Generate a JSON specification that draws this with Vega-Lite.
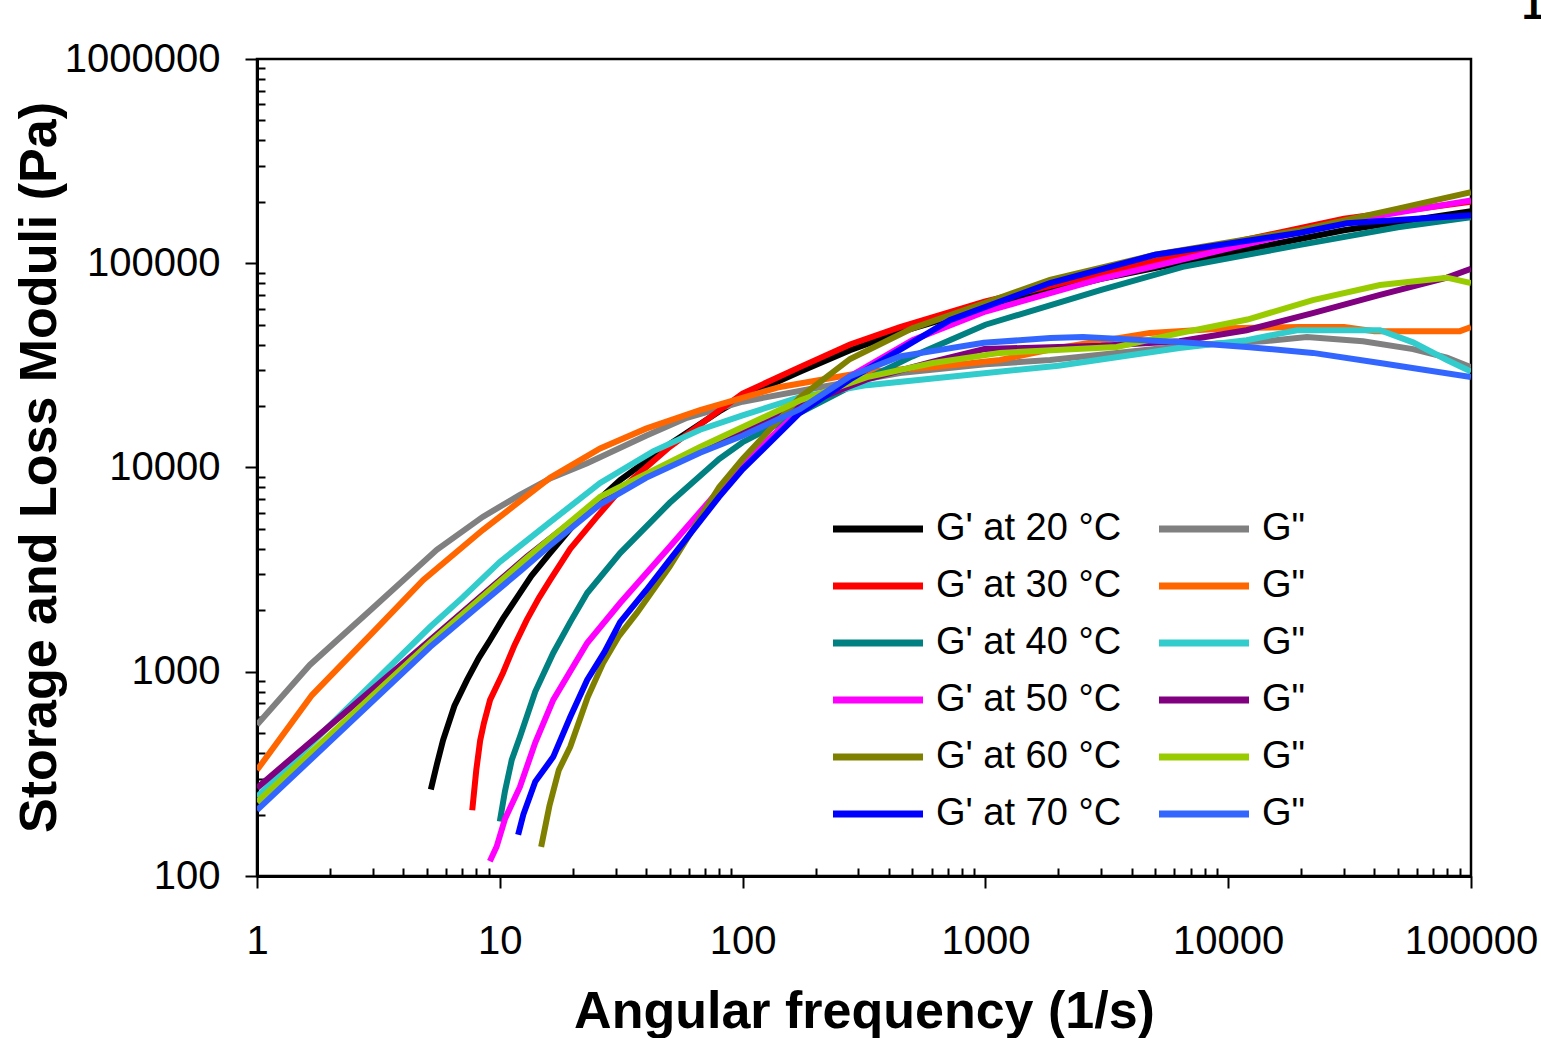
{
  "$schema": "https://vega.github.io/schema/vega-lite/v6.json",
  "width": 1214,
  "height": 817,
  "autosize": {"type": "none"},
  "padding": {"left": 257, "top": 59, "right": 70, "bottom": 162},
  "background": "white",
  "title": {"text": "1", "anchor": "end", "frame": "group", "fontSize": 40, "fontWeight": "bold", "baseline": "alphabetic", "offset": 19, "dy": 39, "dx": 73, "color": "black", "font": "Liberation Sans"},
  "config": {
    "font": "Liberation Sans",
    "view": {"stroke": "black", "strokeWidth": 2.5},
    "axis": {"grid": false, "domainColor": "black", "domainWidth": 3, "tickColor": "black", "tickWidth": 2, "labelColor": "black", "titleColor": "black", "labelFont": "Liberation Sans", "titleFont": "Liberation Sans", "labelFontSize": 40, "titleFontSize": 52, "titleFontWeight": "bold", "labelOverlap": false, "labelFlush": false}
  },
  "data": {"values": [
    {"s":"G' at 20 °C","x":5.2,"y":265},{"s":"G' at 20 °C","x":5.5,"y":350},{"s":"G' at 20 °C","x":5.84,"y":463},{"s":"G' at 20 °C","x":6.5,"y":680},{"s":"G' at 20 °C","x":7.33,"y":912},{"s":"G' at 20 °C","x":8.2,"y":1170},{"s":"G' at 20 °C","x":9.12,"y":1430},{"s":"G' at 20 °C","x":10.3,"y":1820},{"s":"G' at 20 °C","x":11.8,"y":2320},{"s":"G' at 20 °C","x":13.5,"y":2950},{"s":"G' at 20 °C","x":16.1,"y":3810},{"s":"G' at 20 °C","x":19.5,"y":5000},{"s":"G' at 20 °C","x":25,"y":6800},{"s":"G' at 20 °C","x":31.3,"y":8690},{"s":"G' at 20 °C","x":50,"y":13000},{"s":"G' at 20 °C","x":80,"y":18800},{"s":"G' at 20 °C","x":100,"y":22000},{"s":"G' at 20 °C","x":172,"y":29400},{"s":"G' at 20 °C","x":277,"y":37500},{"s":"G' at 20 °C","x":445,"y":46000},{"s":"G' at 20 °C","x":1000,"y":61000},{"s":"G' at 20 °C","x":3000,"y":84000},{"s":"G' at 20 °C","x":10000,"y":112000},{"s":"G' at 20 °C","x":30000,"y":145000},{"s":"G' at 20 °C","x":100000,"y":180000},

    {"s":"G\" 20","x":1,"y":550},{"s":"G\" 20","x":1.65,"y":1080},{"s":"G\" 20","x":3,"y":2050},{"s":"G\" 20","x":5.5,"y":3950},{"s":"G\" 20","x":8.5,"y":5730},{"s":"G\" 20","x":12,"y":7300},{"s":"G\" 20","x":16,"y":8800},{"s":"G\" 20","x":22.9,"y":10500},{"s":"G\" 20","x":40,"y":14300},{"s":"G\" 20","x":59,"y":17500},{"s":"G\" 20","x":100,"y":21000},{"s":"G\" 20","x":200,"y":24500},{"s":"G\" 20","x":445,"y":29000},{"s":"G\" 20","x":1000,"y":32000},{"s":"G\" 20","x":1845,"y":33600},{"s":"G\" 20","x":5000,"y":38000},{"s":"G\" 20","x":9000,"y":40500},{"s":"G\" 20","x":14000,"y":41500},{"s":"G\" 20","x":21100,"y":43500},{"s":"G\" 20","x":35900,"y":41500},{"s":"G\" 20","x":57700,"y":38000},{"s":"G\" 20","x":79600,"y":34500},{"s":"G\" 20","x":100000,"y":31000},

    {"s":"G' at 30 °C","x":7.7,"y":210},{"s":"G' at 30 °C","x":8.0,"y":330},{"s":"G' at 30 °C","x":8.3,"y":460},{"s":"G' at 30 °C","x":8.6,"y":560},{"s":"G' at 30 °C","x":9.12,"y":728},{"s":"G' at 30 °C","x":10.3,"y":986},{"s":"G' at 30 °C","x":11.5,"y":1350},{"s":"G' at 30 °C","x":12.9,"y":1790},{"s":"G' at 30 °C","x":14.5,"y":2300},{"s":"G' at 30 °C","x":16.1,"y":2810},{"s":"G' at 30 °C","x":19.5,"y":4000},{"s":"G' at 30 °C","x":25,"y":5700},{"s":"G' at 30 °C","x":31.3,"y":7760},{"s":"G' at 30 °C","x":50,"y":12600},{"s":"G' at 30 °C","x":80,"y":19000},{"s":"G' at 30 °C","x":100,"y":23000},{"s":"G' at 30 °C","x":172,"y":31000},{"s":"G' at 30 °C","x":277,"y":40000},{"s":"G' at 30 °C","x":445,"y":48700},{"s":"G' at 30 °C","x":1000,"y":65000},{"s":"G' at 30 °C","x":3000,"y":89000},{"s":"G' at 30 °C","x":10000,"y":125000},{"s":"G' at 30 °C","x":30000,"y":165000},{"s":"G' at 30 °C","x":100000,"y":200000},

    {"s":"G\" 30","x":1,"y":330},{"s":"G\" 30","x":1.685,"y":769},{"s":"G\" 30","x":3,"y":1560},{"s":"G\" 30","x":4.83,"y":2810},{"s":"G\" 30","x":8.5,"y":4940},{"s":"G\" 30","x":16.1,"y":8900},{"s":"G\" 30","x":25.9,"y":12400},{"s":"G\" 30","x":40,"y":15500},{"s":"G\" 30","x":66.8,"y":19100},{"s":"G\" 30","x":142.6,"y":24800},{"s":"G\" 30","x":325,"y":29400},{"s":"G\" 30","x":608,"y":31000},{"s":"G\" 30","x":1148,"y":33600},{"s":"G\" 30","x":2000,"y":38500},{"s":"G\" 30","x":4760,"y":45600},{"s":"G\" 30","x":10000,"y":48000},{"s":"G\" 30","x":19800,"y":48700},{"s":"G\" 30","x":30000,"y":48700},{"s":"G\" 30","x":40000,"y":46500},{"s":"G\" 30","x":90000,"y":46500},{"s":"G\" 30","x":100000,"y":48700},

    {"s":"G' at 40 °C","x":10,"y":185},{"s":"G' at 40 °C","x":10.5,"y":260},{"s":"G' at 40 °C","x":11.2,"y":370},{"s":"G' at 40 °C","x":12.1,"y":479},{"s":"G' at 40 °C","x":14,"y":800},{"s":"G' at 40 °C","x":16.6,"y":1236},{"s":"G' at 40 °C","x":19.5,"y":1750},{"s":"G' at 40 °C","x":22.9,"y":2430},{"s":"G' at 40 °C","x":31.3,"y":3810},{"s":"G' at 40 °C","x":50,"y":6700},{"s":"G' at 40 °C","x":80,"y":11000},{"s":"G' at 40 °C","x":100,"y":13300},{"s":"G' at 40 °C","x":172,"y":18500},{"s":"G' at 40 °C","x":277,"y":24800},{"s":"G' at 40 °C","x":500,"y":35000},{"s":"G' at 40 °C","x":1000,"y":50000},{"s":"G' at 40 °C","x":3000,"y":74000},{"s":"G' at 40 °C","x":6500,"y":96000},{"s":"G' at 40 °C","x":19800,"y":123000},{"s":"G' at 40 °C","x":50000,"y":150000},{"s":"G' at 40 °C","x":100000,"y":168000},

    {"s":"G\" 40","x":1,"y":244},{"s":"G\" 40","x":5.16,"y":1656},{"s":"G\" 40","x":7,"y":2300},{"s":"G\" 40","x":10,"y":3450},{"s":"G\" 40","x":16.1,"y":5400},{"s":"G\" 40","x":25.9,"y":8400},{"s":"G\" 40","x":42.8,"y":12000},{"s":"G\" 40","x":66.8,"y":15300},{"s":"G\" 40","x":100,"y":18000},{"s":"G\" 40","x":172,"y":22100},{"s":"G\" 40","x":325,"y":25300},{"s":"G\" 40","x":840,"y":28400},{"s":"G\" 40","x":2000,"y":31500},{"s":"G\" 40","x":6300,"y":38500},{"s":"G\" 40","x":11900,"y":42000},{"s":"G\" 40","x":19200,"y":47000},{"s":"G\" 40","x":42200,"y":47000},{"s":"G\" 40","x":57700,"y":41000},{"s":"G\" 40","x":79600,"y":33600},{"s":"G\" 40","x":100000,"y":29500},

    {"s":"G' at 50 °C","x":9.1,"y":118},{"s":"G' at 50 °C","x":9.7,"y":139},{"s":"G' at 50 °C","x":10.5,"y":190},{"s":"G' at 50 °C","x":12.1,"y":273},{"s":"G' at 50 °C","x":14,"y":450},{"s":"G' at 50 °C","x":16.6,"y":728},{"s":"G' at 50 °C","x":22.9,"y":1383},{"s":"G' at 50 °C","x":31.3,"y":2170},{"s":"G' at 50 °C","x":50,"y":4080},{"s":"G' at 50 °C","x":80,"y":7760},{"s":"G' at 50 °C","x":100,"y":10500},{"s":"G' at 50 °C","x":172,"y":19000},{"s":"G' at 50 °C","x":277,"y":28000},{"s":"G' at 50 °C","x":500,"y":42000},{"s":"G' at 50 °C","x":1000,"y":58000},{"s":"G' at 50 °C","x":3000,"y":84000},{"s":"G' at 50 °C","x":10000,"y":118000},{"s":"G' at 50 °C","x":30000,"y":160000},{"s":"G' at 50 °C","x":100000,"y":203000},

    {"s":"G\" 50","x":1,"y":270},{"s":"G\" 50","x":5.16,"y":1430},{"s":"G\" 50","x":12.9,"y":3650},{"s":"G\" 50","x":25.9,"y":7000},{"s":"G\" 50","x":66.8,"y":12300},{"s":"G\" 50","x":172,"y":20000},{"s":"G\" 50","x":325,"y":27000},{"s":"G\" 50","x":608,"y":33000},{"s":"G\" 50","x":990,"y":38000},{"s":"G\" 50","x":3000,"y":39500},{"s":"G\" 50","x":6300,"y":41500},{"s":"G\" 50","x":11900,"y":47000},{"s":"G\" 50","x":22300,"y":57000},{"s":"G\" 50","x":42200,"y":70000},{"s":"G\" 50","x":79600,"y":85000},{"s":"G\" 50","x":100000,"y":94000},

    {"s":"G' at 60 °C","x":14.8,"y":139},{"s":"G' at 60 °C","x":16,"y":220},{"s":"G' at 60 °C","x":17.5,"y":330},{"s":"G' at 60 °C","x":19.5,"y":429},{"s":"G' at 60 °C","x":23,"y":750},{"s":"G' at 60 °C","x":26.6,"y":1100},{"s":"G' at 60 °C","x":31,"y":1500},{"s":"G' at 60 °C","x":36.7,"y":1940},{"s":"G' at 60 °C","x":50,"y":3260},{"s":"G' at 60 °C","x":80,"y":8000},{"s":"G' at 60 °C","x":100,"y":11000},{"s":"G' at 60 °C","x":172,"y":22000},{"s":"G' at 60 °C","x":277,"y":34000},{"s":"G' at 60 °C","x":500,"y":48000},{"s":"G' at 60 °C","x":1000,"y":64000},{"s":"G' at 60 °C","x":1845,"y":82800},{"s":"G' at 60 °C","x":5000,"y":110000},{"s":"G' at 60 °C","x":19800,"y":145000},{"s":"G' at 60 °C","x":50000,"y":185000},{"s":"G' at 60 °C","x":100000,"y":223000},

    {"s":"G\" 60","x":1,"y":230},{"s":"G\" 60","x":5.16,"y":1390},{"s":"G\" 60","x":12.9,"y":3600},{"s":"G\" 60","x":25.9,"y":7180},{"s":"G\" 60","x":66.8,"y":12600},{"s":"G\" 60","x":172,"y":21300},{"s":"G\" 60","x":325,"y":27700},{"s":"G\" 60","x":608,"y":32500},{"s":"G\" 60","x":1148,"y":36400},{"s":"G\" 60","x":3480,"y":38900},{"s":"G\" 60","x":6300,"y":45500},{"s":"G\" 60","x":12000,"y":53000},{"s":"G\" 60","x":22300,"y":66000},{"s":"G\" 60","x":42200,"y":78300},{"s":"G\" 60","x":79600,"y":85000},{"s":"G\" 60","x":100000,"y":80000},

    {"s":"G' at 70 °C","x":11.9,"y":159},{"s":"G' at 70 °C","x":12.5,"y":200},{"s":"G' at 70 °C","x":14,"y":290},{"s":"G' at 70 °C","x":16.6,"y":383},{"s":"G' at 70 °C","x":19.5,"y":600},{"s":"G' at 70 °C","x":22.9,"y":912},{"s":"G' at 70 °C","x":27,"y":1250},{"s":"G' at 70 °C","x":31.3,"y":1750},{"s":"G' at 70 °C","x":40,"y":2500},{"s":"G' at 70 °C","x":50,"y":3520},{"s":"G' at 70 °C","x":80,"y":7180},{"s":"G' at 70 °C","x":100,"y":9800},{"s":"G' at 70 °C","x":172,"y":18500},{"s":"G' at 70 °C","x":277,"y":27000},{"s":"G' at 70 °C","x":500,"y":41000},{"s":"G' at 70 °C","x":715,"y":52700},{"s":"G' at 70 °C","x":1845,"y":80000},{"s":"G' at 70 °C","x":5000,"y":110000},{"s":"G' at 70 °C","x":19800,"y":141000},{"s":"G' at 70 °C","x":30800,"y":157000},{"s":"G' at 70 °C","x":100000,"y":172000},

    {"s":"G\" 70","x":1,"y":210},{"s":"G\" 70","x":5.16,"y":1322},{"s":"G\" 70","x":8,"y":2050},{"s":"G\" 70","x":12.1,"y":3100},{"s":"G\" 70","x":16.1,"y":4150},{"s":"G\" 70","x":25.9,"y":6600},{"s":"G\" 70","x":40,"y":8900},{"s":"G\" 70","x":66.8,"y":11800},{"s":"G\" 70","x":100,"y":14300},{"s":"G\" 70","x":172,"y":19300},{"s":"G\" 70","x":277,"y":28000},{"s":"G\" 70","x":445,"y":35000},{"s":"G\" 70","x":985,"y":40800},{"s":"G\" 70","x":1850,"y":43000},{"s":"G\" 70","x":2520,"y":43500},{"s":"G\" 70","x":6510,"y":41000},{"s":"G\" 70","x":11900,"y":38900},{"s":"G\" 70","x":22300,"y":36400},{"s":"G\" 70","x":42200,"y":32500},{"s":"G\" 70","x":100000,"y":27700}
  ]},
  "mark": {"type": "line", "strokeWidth": 6, "clip": true},
  "encoding": {
    "x": {
      "field": "x", "type": "quantitative",
      "scale": {"type": "log", "domain": [1, 100000], "nice": false},
      "axis": {
        "title": "Angular frequency (1/s)",
        "values": [1,2,3,4,5,6,7,8,9,10,20,30,40,50,60,70,80,90,100,200,300,400,500,600,700,800,900,1000,2000,3000,4000,5000,6000,7000,8000,9000,10000,20000,30000,40000,50000,60000,70000,80000,90000,100000],
        "labelExpr": "abs(log(datum.value)/LN10 - round(log(datum.value)/LN10)) < 0.001 ? format(datum.value, 'd') : ''",
        "tickSize": {"condition": {"test": "abs(log(datum.value)/LN10 - round(log(datum.value)/LN10)) < 0.001", "value": 12}, "value": -8},
        "labelPadding": 33,
        "titleX": 607, "titleY": 151, "titleBaseline": "alphabetic"
      }
    },
    "y": {
      "field": "y", "type": "quantitative",
      "scale": {"type": "log", "domain": [100, 1000000], "nice": false},
      "axis": {
        "title": "Storage and Loss Moduli (Pa)",
        "values": [100,200,300,400,500,600,700,800,900,1000,2000,3000,4000,5000,6000,7000,8000,9000,10000,20000,30000,40000,50000,60000,70000,80000,90000,100000,200000,300000,400000,500000,600000,700000,800000,900000,1000000],
        "labelExpr": "abs(log(datum.value)/LN10 - round(log(datum.value)/LN10)) < 0.001 ? format(datum.value, 'd') : ''",
        "tickSize": {"condition": {"test": "abs(log(datum.value)/LN10 - round(log(datum.value)/LN10)) < 0.001", "value": 12}, "value": -8},
        "labelPadding": 25,
        "titleX": -202, "titleY": 408, "titleAngle": 270, "titleBaseline": "alphabetic"
      }
    },
    "color": {
      "field": "s", "type": "nominal",
      "scale": {
        "domain": ["G' at 20 °C","G' at 30 °C","G' at 40 °C","G' at 50 °C","G' at 60 °C","G' at 70 °C","G\" 20","G\" 30","G\" 40","G\" 50","G\" 60","G\" 70"],
        "range": ["#000000","#FF0000","#008080","#FF00FF","#808000","#0000FF","#808080","#FF6600","#33CCCC","#800080","#99CC00","#3366FF"]
      },
      "legend": {
        "title": null, "orient": "none", "legendX": 602, "legendY": 451, "columns": 2,
        "symbolType": "M-3,0H3", "symbolSize": 900, "symbolStrokeWidth": 7,
        "labelFontSize": 38, "labelFont": "Liberation Sans", "labelColor": "black", "labelOffset": 39, "labelLimit": 0,
        "rowPadding": 19, "columnPadding": 23, "padding": 0,
        "labelExpr": "indexof(datum.label, ' at ') >= 0 ? datum.label : 'G\"'"
      }
    }
  }
}
